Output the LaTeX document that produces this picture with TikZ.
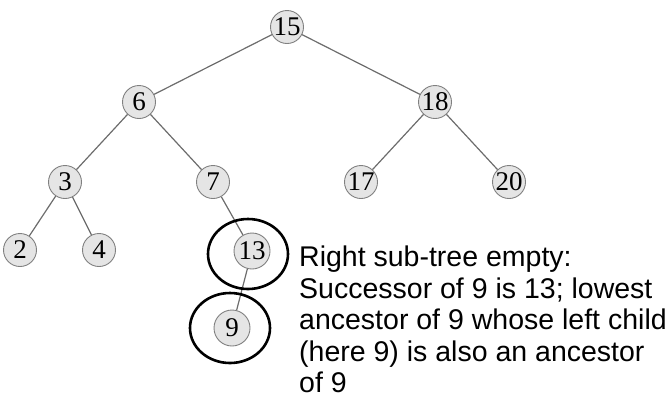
\documentclass[tikz,border=0pt]{standalone}
\usepackage{fontspec}
\setmainfont{Liberation Serif}
\newfontfamily\notefont{Liberation Sans}
\usetikzlibrary{positioning}

\tikzset{
  key/.style={circle, draw=gray, fill=gray!20, line width=0.9pt, minimum size=33pt, inner sep=0pt, font=\fontsize{27}{27}\selectfont},
  bigkey/.style={key, minimum size=36pt},
  link/.style={gray!85!black, line width=1.2pt},
  ring/.style={black, line width=2.6pt}
}

\begin{document}
\begin{tikzpicture}[x=1pt,y=-1pt]
				\useasboundingbox (0,0) rectangle (666,408);
				% the tree
				\node[key] (n15) at (287,27) {15};
				\node[key] (n6) at (139,102) {6};
				\node[key] (n18) at (435,102) {18};
				\node[key] (n3) at (65,182) {3};
				\node[key] (n7) at (213,182) {7};
				\node[key] (n17) at (361,182) {17};
				\node[key] (n20) at (509,182) {20};
				\node[key] (n2) at (20,250) {2};
				\node[key] (n4) at (99,250) {4};
				\node[bigkey] (n13) at (252,251) {13};
				\node[bigkey] (n9) at (232,328) {9};
				\draw[link] (n15) -- (n6);
				\draw[link] (n15) -- (n18);
				\draw[link] (n6) -- (n3);
				\draw[link] (n6) -- (n7);
				\draw[link] (n18) -- (n17);
				\draw[link] (n18) -- (n20);
				\draw[link] (n3) -- (n2);
				\draw[link] (n3) -- (n4);
				\draw[link] (n7) -- (n13);
				\draw[link] (n13) -- (n9);
				% marks on 13 and 9
				\draw[ring] (248,254) ellipse (40 and 35);
				\draw[ring] (230,328) ellipse (40 and 35);
				% the note
				\node[anchor=north west, inner sep=0pt, align=left, font=\notefont\fontsize{28.5}{31.5}\selectfont] (note) at (299,246) {Right sub-tree empty:\\Successor of 9 is 13; lowest\\ancestor of 9 whose left child\\(here 9) is also an ancestor\\of 9};
			\end{tikzpicture}
\end{document}
